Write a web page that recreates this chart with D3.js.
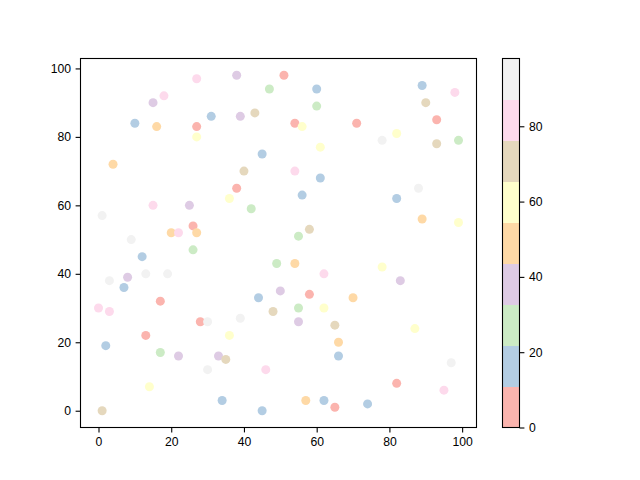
<!DOCTYPE html>
<html><head><meta charset="utf-8">
<script src="https://cdn.jsdelivr.net/npm/d3@7"></script>
<style>body{margin:0;background:#fff}svg{display:block}</style>
</head><body>
<script>
const xVals=[27,15,18,10,16,27,27,31,4,38,51,47,60,60,39,43,54,56,61,45,40,54,61,38,89,98,90,93,71,82,78,93,99,88,15,25,1,26,20,22,27,9,26,12,3,8,13,19,7,17,0,3,36,56,42,58,55,49,54,62,50,58,44,48,55,62,82,89,99,78,83,70,28,30,13,2,17,22,33,30,14,1,39,55,65,36,66,66,35,46,34,45,57,62,65,87,97,82,95,74];
const yVals=[97,90,92,84,83,83,80,86,72,98,98,94,94,89,86,87,84,83,77,75,70,70,68,65,95,93,90,85,84,81,79,78,79,65,60,60,57,54,52,52,52,50,47,45,38,39,40,40,36,32,30,29,62,63,59,53,51,43,43,40,35,34,33,29,30,30,62,56,55,42,38,33,26,26,22,19,17,16,16,12,7,0,27,26,25,22,20,16,15,12,3,0,3,3,1,24,14,8,6,2];
const cVals=[82,38,81,16,49,4,60,17,48,37,6,27,15,28,39,71,5,59,61,16,70,83,17,7,16,81,72,3,5,60,93,70,27,92,82,38,94,6,48,82,50,93,28,15,92,39,94,93,16,5,83,82,61,16,27,71,28,27,49,81,38,6,17,70,27,60,16,49,60,59,38,50,5,93,4,16,28,38,37,93,60,71,94,38,71,61,49,17,70,82,16,15,50,16,0,60,98,5,82,16];
const xTicks=[0,20,40,60,80,100];
const yTicks=[0,20,40,60,80,100];
const cTicks=[0,20,40,60,80];

const W=640,H=480;
const svg=d3.select("body").append("svg").attr("width",W).attr("height",H);
const L=80.5,R=476.5,T=58.5,B=427.5;
const pad=(a)=>{const e=d3.extent(a),s=e[1]-e[0];return [e[0]-0.05*s,e[1]+0.05*s];};
const x=d3.scaleLinear().domain(pad(xVals)).range([L,R]);
const y=d3.scaleLinear().domain(pad(yVals)).range([B,T]);
const cExt=d3.extent(cVals);
const color=d3.scaleQuantize().domain(cExt).range(d3.schemePastel1);
const font="Liberation Sans";
const fs=12.2;

const pts=xVals.map((v,i)=>({x:v,y:yVals[i],c:cVals[i]}));
svg.append("g").selectAll("circle").data(pts).join("circle")
  .attr("cx",d=>x(d.x)).attr("cy",d=>y(d.y)).attr("r",4.5)
  .attr("fill",d=>color(d.c));

const gx=svg.append("g").attr("transform",`translate(0,${B})`)
  .call(d3.axisBottom(x).tickValues(xTicks).tickSize(4.9).tickPadding(4.5));
const gy=svg.append("g").attr("transform",`translate(${L},0)`)
  .call(d3.axisLeft(y).tickValues(yTicks).tickSize(4.9).tickPadding(4.5));
[gx,gy].forEach(g=>{g.select(".domain").remove();
  g.selectAll("text").attr("font-family",font).attr("font-size",fs).attr("fill","#000");
  g.selectAll("line").attr("stroke","#000").attr("stroke-width",1.1);});
svg.append("rect").attr("x",L).attr("y",T).attr("width",R-L).attr("height",B-T)
  .attr("fill","none").attr("stroke","#000").attr("stroke-width",1.1);

// colorbar
const cbL=502.5,cbR=519.5;
const cy=d3.scaleLinear().domain(cExt).range([B,T]);
const bins=color.range().map(c=>color.invertExtent(c));
svg.append("g").selectAll("rect").data(bins).join("rect")
  .attr("x",cbL).attr("width",cbR-cbL)
  .attr("y",d=>cy(d[1])).attr("height",d=>cy(d[0])-cy(d[1])+0.5)
  .attr("fill",(d,i)=>color.range()[i]);
const gc=svg.append("g").attr("transform",`translate(${cbR},0)`)
  .call(d3.axisRight(cy).tickValues(cTicks).tickSize(4.9).tickPadding(4.5));
gc.select(".domain").remove();
gc.selectAll("text").attr("font-family",font).attr("font-size",fs).attr("fill","#000");
gc.selectAll("line").attr("stroke","#000").attr("stroke-width",1.1);
svg.append("rect").attr("x",cbL).attr("y",T).attr("width",cbR-cbL).attr("height",B-T)
  .attr("fill","none").attr("stroke","#000").attr("stroke-width",1.1);
</script>
</body></html>
